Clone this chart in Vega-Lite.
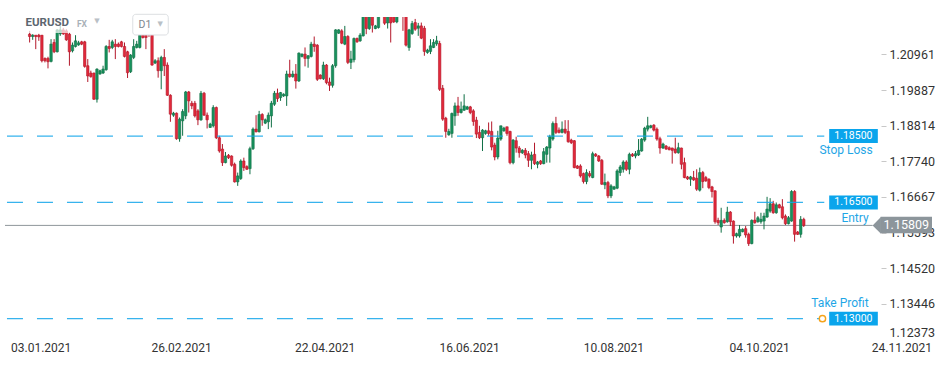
{
"$schema":"https://vega.github.io/schema/vega-lite/v6.json",
"width":950,"height":323,
"autosize":{"type":"none"},
"padding":{"left":0,"top":17,"right":0,"bottom":25},
"background":"white",
"config":{"view":{"stroke":null},"font":"Roboto"},
"datasets":{
"candles":[
{"i":0,"o":1.2157,"h":1.2167,"l":1.2132,"c":1.2150},
{"i":1,"o":1.2150,"h":1.2157,"l":1.2140,"c":1.2154},
{"i":2,"o":1.2154,"h":1.2154,"l":1.2112,"c":1.2150},
{"i":3,"o":1.2154,"h":1.2158,"l":1.2137,"c":1.2149},
{"i":4,"o":1.2154,"h":1.2154,"l":1.2072,"c":1.2077},
{"i":5,"o":1.2084,"h":1.2087,"l":1.2072,"c":1.2077},
{"i":6,"o":1.2084,"h":1.2089,"l":1.2054,"c":1.2074},
{"i":7,"o":1.2075,"h":1.2142,"l":1.2072,"c":1.2127},
{"i":8,"o":1.2132,"h":1.2142,"l":1.2100,"c":1.2104},
{"i":9,"o":1.2104,"h":1.2172,"l":1.2102,"c":1.2170},
{"i":10,"o":1.2158,"h":1.2182,"l":1.2152,"c":1.2170},
{"i":11,"o":1.2170,"h":1.2176,"l":1.2155,"c":1.2158},
{"i":12,"o":1.2167,"h":1.2172,"l":1.2137,"c":1.2140},
{"i":13,"o":1.2157,"h":1.2162,"l":1.2062,"c":1.2104},
{"i":14,"o":1.2107,"h":1.2132,"l":1.2102,"c":1.2124},
{"i":15,"o":1.2120,"h":1.2154,"l":1.2117,"c":1.2137},
{"i":16,"o":1.2125,"h":1.2137,"l":1.2122,"c":1.2131},
{"i":17,"o":1.2134,"h":1.2137,"l":1.2124,"c":1.2127},
{"i":18,"o":1.2134,"h":1.2137,"l":1.2056,"c":1.2060},
{"i":19,"o":1.2062,"h":1.2082,"l":1.2013,"c":1.2031},
{"i":20,"o":1.2040,"h":1.2047,"l":1.2026,"c":1.2029},
{"i":21,"o":1.2040,"h":1.2041,"l":1.1959,"c":1.1961},
{"i":22,"o":1.1961,"h":1.2054,"l":1.1951,"c":1.2052},
{"i":23,"o":1.2037,"h":1.2050,"l":1.2035,"c":1.2047},
{"i":24,"o":1.2040,"h":1.2062,"l":1.2037,"c":1.2052},
{"i":25,"o":1.2050,"h":1.2124,"l":1.2047,"c":1.2120},
{"i":26,"o":1.2120,"h":1.2140,"l":1.2102,"c":1.2114},
{"i":27,"o":1.2117,"h":1.2140,"l":1.2112,"c":1.2134},
{"i":28,"o":1.2127,"h":1.2142,"l":1.2082,"c":1.2120},
{"i":29,"o":1.2127,"h":1.2132,"l":1.2117,"c":1.2120},
{"i":30,"o":1.2134,"h":1.2137,"l":1.2117,"c":1.2120},
{"i":31,"o":1.2120,"h":1.2132,"l":1.2087,"c":1.2090},
{"i":32,"o":1.2104,"h":1.2107,"l":1.2025,"c":1.2041},
{"i":33,"o":1.2044,"h":1.2097,"l":1.2040,"c":1.2094},
{"i":34,"o":1.2087,"h":1.2142,"l":1.2082,"c":1.2120},
{"i":35,"o":1.2117,"h":1.2137,"l":1.2114,"c":1.2127},
{"i":36,"o":1.2117,"h":1.2167,"l":1.2114,"c":1.2154},
{"i":37,"o":1.2154,"h":1.2167,"l":1.2144,"c":1.2147},
{"i":38,"o":1.2154,"h":1.2167,"l":1.2112,"c":1.2147},
{"i":39,"o":1.2167,"h":1.2173,"l":1.2149,"c":1.2157},
{"i":40,"o":1.2157,"h":1.2167,"l":1.2062,"c":1.2064},
{"i":41,"o":1.2070,"h":1.2082,"l":1.2067,"c":1.2077},
{"i":42,"o":1.2077,"h":1.2087,"l":1.2026,"c":1.2047},
{"i":43,"o":1.2047,"h":1.2092,"l":1.1991,"c":1.2087},
{"i":44,"o":1.2087,"h":1.2112,"l":1.2031,"c":1.2062},
{"i":45,"o":1.2064,"h":1.2072,"l":1.1971,"c":1.1973},
{"i":46,"o":1.1973,"h":1.1976,"l":1.1893,"c":1.1916},
{"i":47,"o":1.1913,"h":1.1923,"l":1.1908,"c":1.1919},
{"i":48,"o":1.1919,"h":1.1921,"l":1.1839,"c":1.1842},
{"i":49,"o":1.1842,"h":1.1906,"l":1.1833,"c":1.1901},
{"i":50,"o":1.1896,"h":1.1931,"l":1.1851,"c":1.1924},
{"i":51,"o":1.1911,"h":1.1986,"l":1.1901,"c":1.1983},
{"i":52,"o":1.1983,"h":1.1986,"l":1.1921,"c":1.1956},
{"i":53,"o":1.1949,"h":1.1956,"l":1.1931,"c":1.1941},
{"i":54,"o":1.1949,"h":1.1956,"l":1.1906,"c":1.1911},
{"i":55,"o":1.1926,"h":1.1931,"l":1.1883,"c":1.1899},
{"i":56,"o":1.1899,"h":1.1986,"l":1.1896,"c":1.1979},
{"i":57,"o":1.1979,"h":1.1983,"l":1.1911,"c":1.1913},
{"i":58,"o":1.1913,"h":1.1921,"l":1.1873,"c":1.1899},
{"i":59,"o":1.1876,"h":1.1890,"l":1.1875,"c":1.1886},
{"i":60,"o":1.1881,"h":1.1943,"l":1.1876,"c":1.1936},
{"i":61,"o":1.1936,"h":1.1939,"l":1.1841,"c":1.1845},
{"i":62,"o":1.1845,"h":1.1851,"l":1.1800,"c":1.1805},
{"i":63,"o":1.1811,"h":1.1826,"l":1.1760,"c":1.1770},
{"i":64,"o":1.1770,"h":1.1802,"l":1.1768,"c":1.1790},
{"i":65,"o":1.1792,"h":1.1796,"l":1.1781,"c":1.1785},
{"i":66,"o":1.1790,"h":1.1792,"l":1.1758,"c":1.1762},
{"i":67,"o":1.1765,"h":1.1770,"l":1.1710,"c":1.1712},
{"i":68,"o":1.1712,"h":1.1740,"l":1.1700,"c":1.1730},
{"i":69,"o":1.1722,"h":1.1780,"l":1.1718,"c":1.1775},
{"i":70,"o":1.1775,"h":1.1785,"l":1.1745,"c":1.1755},
{"i":71,"o":1.1758,"h":1.1762,"l":1.1748,"c":1.1750},
{"i":72,"o":1.1752,"h":1.1818,"l":1.1735,"c":1.1812},
{"i":73,"o":1.1812,"h":1.1876,"l":1.1808,"c":1.1871},
{"i":74,"o":1.1871,"h":1.1913,"l":1.1861,"c":1.1863},
{"i":75,"o":1.1863,"h":1.1926,"l":1.1861,"c":1.1915},
{"i":76,"o":1.1915,"h":1.1919,"l":1.1881,"c":1.1899},
{"i":77,"o":1.1889,"h":1.1903,"l":1.1886,"c":1.1899},
{"i":78,"o":1.1893,"h":1.1921,"l":1.1871,"c":1.1913},
{"i":79,"o":1.1911,"h":1.1956,"l":1.1876,"c":1.1949},
{"i":80,"o":1.1946,"h":1.1986,"l":1.1941,"c":1.1979},
{"i":81,"o":1.1979,"h":1.1993,"l":1.1953,"c":1.1963},
{"i":82,"o":1.1966,"h":1.1983,"l":1.1956,"c":1.1981},
{"i":83,"o":1.1971,"h":1.1979,"l":1.1968,"c":1.1976},
{"i":84,"o":1.1971,"h":1.2047,"l":1.1941,"c":1.2037},
{"i":85,"o":1.2037,"h":1.2080,"l":1.2026,"c":1.2029},
{"i":86,"o":1.2029,"h":1.2047,"l":1.2026,"c":1.2037},
{"i":87,"o":1.2037,"h":1.2067,"l":1.1993,"c":1.2016},
{"i":88,"o":1.2016,"h":1.2102,"l":1.2013,"c":1.2100},
{"i":89,"o":1.2090,"h":1.2099,"l":1.2087,"c":1.2097},
{"i":90,"o":1.2097,"h":1.2117,"l":1.2060,"c":1.2084},
{"i":91,"o":1.2084,"h":1.2094,"l":1.2056,"c":1.2092},
{"i":92,"o":1.2090,"h":1.2134,"l":1.2087,"c":1.2127},
{"i":93,"o":1.2127,"h":1.2150,"l":1.2104,"c":1.2120},
{"i":94,"o":1.2124,"h":1.2127,"l":1.2016,"c":1.2021},
{"i":95,"o":1.2034,"h":1.2036,"l":1.2021,"c":1.2023},
{"i":96,"o":1.2023,"h":1.2074,"l":1.2019,"c":1.2064},
{"i":97,"o":1.2064,"h":1.2067,"l":1.2006,"c":1.2011},
{"i":98,"o":1.2013,"h":1.2026,"l":1.1986,"c":1.2003},
{"i":99,"o":1.2003,"h":1.2067,"l":1.1996,"c":1.2062},
{"i":100,"o":1.2062,"h":1.2172,"l":1.2056,"c":1.2170},
{"i":101,"o":1.2160,"h":1.2172,"l":1.2158,"c":1.2170},
{"i":102,"o":1.2167,"h":1.2172,"l":1.2127,"c":1.2130},
{"i":103,"o":1.2127,"h":1.2182,"l":1.2124,"c":1.2150},
{"i":104,"o":1.2150,"h":1.2154,"l":1.2067,"c":1.2072},
{"i":105,"o":1.2072,"h":1.2107,"l":1.2052,"c":1.2082},
{"i":106,"o":1.2080,"h":1.2147,"l":1.2072,"c":1.2144},
{"i":107,"o":1.2144,"h":1.2147,"l":1.2131,"c":1.2134},
{"i":108,"o":1.2137,"h":1.2160,"l":1.2134,"c":1.2154},
{"i":109,"o":1.2152,"h":1.2225,"l":1.2150,"c":1.2215},
{"i":110,"o":1.2225,"h":1.2240,"l":1.2157,"c":1.2174},
{"i":111,"o":1.2174,"h":1.2235,"l":1.2170,"c":1.2220},
{"i":112,"o":1.2230,"h":1.2245,"l":1.2162,"c":1.2184},
{"i":113,"o":1.2174,"h":1.2185,"l":1.2172,"c":1.2182},
{"i":114,"o":1.2177,"h":1.2240,"l":1.2174,"c":1.2225},
{"i":115,"o":1.2250,"h":1.2262,"l":1.2215,"c":1.2228},
{"i":116,"o":1.2232,"h":1.2245,"l":1.2185,"c":1.2190},
{"i":117,"o":1.2191,"h":1.2228,"l":1.2174,"c":1.2213},
{"i":118,"o":1.2220,"h":1.2230,"l":1.2132,"c":1.2191},
{"i":119,"o":1.2228,"h":1.2240,"l":1.2191,"c":1.2194},
{"i":120,"o":1.2194,"h":1.2240,"l":1.2190,"c":1.2225},
{"i":121,"o":1.2225,"h":1.2250,"l":1.2212,"c":1.2240},
{"i":122,"o":1.2240,"h":1.2250,"l":1.2167,"c":1.2215},
{"i":123,"o":1.2215,"h":1.2225,"l":1.2120,"c":1.2124},
{"i":124,"o":1.2117,"h":1.2173,"l":1.2107,"c":1.2170},
{"i":125,"o":1.2159,"h":1.2197,"l":1.2155,"c":1.2189},
{"i":126,"o":1.2192,"h":1.2203,"l":1.2167,"c":1.2172},
{"i":127,"o":1.2175,"h":1.2191,"l":1.2152,"c":1.2182},
{"i":128,"o":1.2182,"h":1.2192,"l":1.2142,"c":1.2145},
{"i":129,"o":1.2175,"h":1.2182,"l":1.2092,"c":1.2105},
{"i":130,"o":1.2102,"h":1.2113,"l":1.2098,"c":1.2109},
{"i":131,"o":1.2105,"h":1.2142,"l":1.2097,"c":1.2122},
{"i":132,"o":1.2117,"h":1.2142,"l":1.2115,"c":1.2132},
{"i":133,"o":1.2128,"h":1.2152,"l":1.2122,"c":1.2137},
{"i":134,"o":1.2129,"h":1.2137,"l":1.1986,"c":1.1991},
{"i":135,"o":1.1994,"h":1.2004,"l":1.1896,"c":1.1901},
{"i":136,"o":1.1904,"h":1.1908,"l":1.1845,"c":1.1864},
{"i":137,"o":1.1854,"h":1.1872,"l":1.1851,"c":1.1864},
{"i":138,"o":1.1858,"h":1.1921,"l":1.1845,"c":1.1918},
{"i":139,"o":1.1911,"h":1.1951,"l":1.1881,"c":1.1941},
{"i":140,"o":1.1941,"h":1.1968,"l":1.1911,"c":1.1921},
{"i":141,"o":1.1921,"h":1.1954,"l":1.1918,"c":1.1931},
{"i":142,"o":1.1928,"h":1.1976,"l":1.1926,"c":1.1941},
{"i":143,"o":1.1931,"h":1.1941,"l":1.1929,"c":1.1938},
{"i":144,"o":1.1938,"h":1.1941,"l":1.1916,"c":1.1921},
{"i":145,"o":1.1926,"h":1.1931,"l":1.1881,"c":1.1894},
{"i":146,"o":1.1898,"h":1.1908,"l":1.1844,"c":1.1856},
{"i":147,"o":1.1861,"h":1.1881,"l":1.1841,"c":1.1845},
{"i":148,"o":1.1845,"h":1.1871,"l":1.1805,"c":1.1868},
{"i":149,"o":1.1858,"h":1.1869,"l":1.1854,"c":1.1866},
{"i":150,"o":1.1866,"h":1.1891,"l":1.1851,"c":1.1858},
{"i":151,"o":1.1864,"h":1.1894,"l":1.1807,"c":1.1817},
{"i":152,"o":1.1823,"h":1.1830,"l":1.1777,"c":1.1787},
{"i":153,"o":1.1787,"h":1.1866,"l":1.1780,"c":1.1844},
{"i":154,"o":1.1841,"h":1.1881,"l":1.1836,"c":1.1881},
{"i":155,"o":1.1866,"h":1.1878,"l":1.1863,"c":1.1874},
{"i":156,"o":1.1878,"h":1.1878,"l":1.1851,"c":1.1858},
{"i":157,"o":1.1864,"h":1.1866,"l":1.1765,"c":1.1770},
{"i":158,"o":1.1770,"h":1.1841,"l":1.1765,"c":1.1838},
{"i":159,"o":1.1836,"h":1.1848,"l":1.1800,"c":1.1814},
{"i":160,"o":1.1814,"h":1.1820,"l":1.1785,"c":1.1800},
{"i":161,"o":1.1800,"h":1.1811,"l":1.1796,"c":1.1807},
{"i":162,"o":1.1807,"h":1.1814,"l":1.1783,"c":1.1793},
{"i":163,"o":1.1797,"h":1.1805,"l":1.1757,"c":1.1777},
{"i":164,"o":1.1777,"h":1.1803,"l":1.1750,"c":1.1793},
{"i":165,"o":1.1795,"h":1.1830,"l":1.1763,"c":1.1767},
{"i":166,"o":1.1765,"h":1.1775,"l":1.1753,"c":1.1772},
{"i":167,"o":1.1775,"h":1.1778,"l":1.1763,"c":1.1767},
{"i":168,"o":1.1767,"h":1.1814,"l":1.1765,"c":1.1803},
{"i":169,"o":1.1795,"h":1.1820,"l":1.1770,"c":1.1817},
{"i":170,"o":1.1814,"h":1.1854,"l":1.1770,"c":1.1848},
{"i":171,"o":1.1841,"h":1.1894,"l":1.1836,"c":1.1888},
{"i":172,"o":1.1888,"h":1.1908,"l":1.1856,"c":1.1861},
{"i":173,"o":1.1868,"h":1.1876,"l":1.1858,"c":1.1861},
{"i":174,"o":1.1861,"h":1.1894,"l":1.1858,"c":1.1871},
{"i":175,"o":1.1871,"h":1.1898,"l":1.1856,"c":1.1861},
{"i":176,"o":1.1864,"h":1.1898,"l":1.1830,"c":1.1833},
{"i":177,"o":1.1838,"h":1.1842,"l":1.1826,"c":1.1830},
{"i":178,"o":1.1836,"h":1.1838,"l":1.1753,"c":1.1755},
{"i":179,"o":1.1760,"h":1.1763,"l":1.1751,"c":1.1753},
{"i":180,"o":1.1760,"h":1.1765,"l":1.1725,"c":1.1730},
{"i":181,"o":1.1737,"h":1.1740,"l":1.1707,"c":1.1713},
{"i":182,"o":1.1713,"h":1.1750,"l":1.1705,"c":1.1740},
{"i":183,"o":1.1737,"h":1.1745,"l":1.1725,"c":1.1730},
{"i":184,"o":1.1725,"h":1.1803,"l":1.1723,"c":1.1797},
{"i":185,"o":1.1795,"h":1.1799,"l":1.1787,"c":1.1790},
{"i":186,"o":1.1790,"h":1.1793,"l":1.1772,"c":1.1775},
{"i":187,"o":1.1777,"h":1.1781,"l":1.1703,"c":1.1705},
{"i":188,"o":1.1703,"h":1.1737,"l":1.1690,"c":1.1710},
{"i":189,"o":1.1710,"h":1.1715,"l":1.1663,"c":1.1670},
{"i":190,"o":1.1670,"h":1.1705,"l":1.1663,"c":1.1700},
{"i":191,"o":1.1690,"h":1.1700,"l":1.1688,"c":1.1697},
{"i":192,"o":1.1693,"h":1.1750,"l":1.1690,"c":1.1745},
{"i":193,"o":1.1740,"h":1.1763,"l":1.1730,"c":1.1757},
{"i":194,"o":1.1750,"h":1.1777,"l":1.1740,"c":1.1772},
{"i":195,"o":1.1772,"h":1.1777,"l":1.1745,"c":1.1750},
{"i":196,"o":1.1750,"h":1.1800,"l":1.1735,"c":1.1795},
{"i":197,"o":1.1795,"h":1.1799,"l":1.1787,"c":1.1790},
{"i":198,"o":1.1790,"h":1.1805,"l":1.1783,"c":1.1797},
{"i":199,"o":1.1793,"h":1.1841,"l":1.1790,"c":1.1807},
{"i":200,"o":1.1805,"h":1.1844,"l":1.1803,"c":1.1841},
{"i":201,"o":1.1838,"h":1.1878,"l":1.1833,"c":1.1874},
{"i":202,"o":1.1871,"h":1.1908,"l":1.1864,"c":1.1881},
{"i":203,"o":1.1876,"h":1.1884,"l":1.1873,"c":1.1881},
{"i":204,"o":1.1883,"h":1.1886,"l":1.1864,"c":1.1868},
{"i":205,"o":1.1871,"h":1.1876,"l":1.1836,"c":1.1841},
{"i":206,"o":1.1842,"h":1.1848,"l":1.1797,"c":1.1814},
{"i":207,"o":1.1814,"h":1.1830,"l":1.1811,"c":1.1826},
{"i":208,"o":1.1820,"h":1.1823,"l":1.1808,"c":1.1811},
{"i":209,"o":1.1815,"h":1.1819,"l":1.1807,"c":1.1809},
{"i":210,"o":1.1814,"h":1.1815,"l":1.1767,"c":1.1807},
{"i":211,"o":1.1811,"h":1.1845,"l":1.1797,"c":1.1800},
{"i":212,"o":1.1800,"h":1.1830,"l":1.1797,"c":1.1815},
{"i":213,"o":1.1814,"h":1.1815,"l":1.1750,"c":1.1765},
{"i":214,"o":1.1770,"h":1.1785,"l":1.1723,"c":1.1725},
{"i":215,"o":1.1727,"h":1.1730,"l":1.1718,"c":1.1721},
{"i":216,"o":1.1720,"h":1.1730,"l":1.1700,"c":1.1727},
{"i":217,"o":1.1725,"h":1.1745,"l":1.1715,"c":1.1718},
{"i":218,"o":1.1723,"h":1.1750,"l":1.1685,"c":1.1690},
{"i":219,"o":1.1687,"h":1.1755,"l":1.1683,"c":1.1740},
{"i":220,"o":1.1740,"h":1.1745,"l":1.1693,"c":1.1713},
{"i":221,"o":1.1725,"h":1.1730,"l":1.1712,"c":1.1715},
{"i":222,"o":1.1720,"h":1.1723,"l":1.1690,"c":1.1695},
{"i":223,"o":1.1697,"h":1.1700,"l":1.1665,"c":1.1683},
{"i":224,"o":1.1685,"h":1.1687,"l":1.1586,"c":1.1592},
{"i":225,"o":1.1596,"h":1.1604,"l":1.1582,"c":1.1589},
{"i":226,"o":1.1576,"h":1.1634,"l":1.1559,"c":1.1596},
{"i":227,"o":1.1596,"h":1.1602,"l":1.1586,"c":1.1589},
{"i":228,"o":1.1592,"h":1.1637,"l":1.1589,"c":1.1621},
{"i":229,"o":1.1621,"h":1.1624,"l":1.1579,"c":1.1592},
{"i":230,"o":1.1594,"h":1.1596,"l":1.1526,"c":1.1549},
{"i":231,"o":1.1549,"h":1.1559,"l":1.1544,"c":1.1556},
{"i":232,"o":1.1549,"h":1.1582,"l":1.1544,"c":1.1569},
{"i":233,"o":1.1562,"h":1.1572,"l":1.1560,"c":1.1569},
{"i":234,"o":1.1571,"h":1.1579,"l":1.1544,"c":1.1552},
{"i":235,"o":1.1554,"h":1.1559,"l":1.1519,"c":1.1526},
{"i":236,"o":1.1526,"h":1.1599,"l":1.1524,"c":1.1596},
{"i":237,"o":1.1597,"h":1.1622,"l":1.1586,"c":1.1589},
{"i":238,"o":1.1592,"h":1.1609,"l":1.1589,"c":1.1604},
{"i":239,"o":1.1592,"h":1.1619,"l":1.1586,"c":1.1599},
{"i":240,"o":1.1594,"h":1.1619,"l":1.1569,"c":1.1609},
{"i":241,"o":1.1606,"h":1.1667,"l":1.1604,"c":1.1630},
{"i":242,"o":1.1624,"h":1.1663,"l":1.1619,"c":1.1646},
{"i":243,"o":1.1646,"h":1.1655,"l":1.1616,"c":1.1619},
{"i":244,"o":1.1619,"h":1.1650,"l":1.1616,"c":1.1643},
{"i":245,"o":1.1643,"h":1.1646,"l":1.1632,"c":1.1634},
{"i":246,"o":1.1637,"h":1.1660,"l":1.1599,"c":1.1604},
{"i":247,"o":1.1609,"h":1.1614,"l":1.1582,"c":1.1586},
{"i":248,"o":1.1586,"h":1.1609,"l":1.1584,"c":1.1604},
{"i":249,"o":1.1594,"h":1.1687,"l":1.1592,"c":1.1683},
{"i":250,"o":1.1683,"h":1.1687,"l":1.1532,"c":1.1554},
{"i":251,"o":1.1561,"h":1.1564,"l":1.1552,"c":1.1554},
{"i":252,"o":1.1554,"h":1.1609,"l":1.1544,"c":1.1599},
{"i":253,"o":1.1599,"h":1.1604,"l":1.1576,"c":1.15809}
],
"pline":[{"i":-8.052,"i2":275.5,"p":1.15809}],
"levels":[{"i":-7.405,"i2":259.7,"p":1.185},{"i":-7.405,"i2":259.7,"p":1.165},{"i":-7.405,"i2":258.1,"p":1.13}],
"overlay":[{"i":-8.052,"i2":46.9,"p":1.21606,"p2":1.2215}],
"d1box":[{"i":33.7,"i2":45.3,"p":1.21546,"p2":1.22169}],
"hdr1":[{"i":-1.36,"p":1.21898,"t":"EURUSD"}],
"hdr2":[{"i":15.46,"p":1.21892,"t":"FX"}],
"hdr3":[{"i":22.0,"p":1.21967,"t":"▼"},{"i":42.7,"p":1.21877,"t":"▼"}],
"hdr4":[{"i":35.6,"p":1.21862,"t":"D1"}],
"ring":[{"i":259.1,"p":1.13}],
"boxes":[{"i":261.3,"i2":277.2,"p":1.1829,"p2":1.1871},{"i":261.3,"i2":277.2,"p":1.1629,"p2":1.1671},{"i":261.3,"i2":277.2,"p":1.1279,"p2":1.1321}],
"boxtext":[{"i":269.2,"p":1.185,"t":"1.18500"},{"i":269.2,"p":1.165,"t":"1.16500"},{"i":269.2,"p":1.13,"t":"1.13000"}],
"tags":[{"i":275.5,"p":1.18081,"t":"Stop Loss"},{"i":274.2,"p":1.16032,"t":"Entry"},{"i":274.2,"p":1.13471,"t":"Take Profit"}],
"gbox":[{"i":278.1,"i2":294.9,"p":1.15571,"p2":1.16071}],
"gtip":[{"i":275.5,"p":1.15809}],
"gtext":[{"i":286.5,"p":1.15809,"t":"1.15809"}]
},
"encoding":{"x":{"field":"i","type":"quantitative","scale":{"domain":[-8.052,299.15],"nice":false,"zero":false},
 "axis":{"values":[3.6,49.5,96.4,143.6,190.8,238.4,284.9],"labelExpr":"datum.value<20?'03.01.2021':datum.value<70?'26.02.2021':datum.value<120?'22.04.2021':datum.value<170?'16.06.2021':datum.value<210?'10.08.2021':datum.value<260?'04.10.2021':'24.11.2021'","title":null,"domain":false,"ticks":false,"grid":false,"labelFont":"Roboto","labelFontSize":12,"labelColor":"#333333","labelPadding":2,"labelFlush":false,"labelOverlap":false,"labelBaseline":"top"}}},
"layer":[
{"data":{"name":"pline"},"mark":{"type":"rule","color":"#8e969b","strokeWidth":1},
 "encoding":{"x2":{"field":"i2"},"y":{"field":"p","type":"quantitative","scale":{"domain":[1.12356,1.22088],"nice":false,"zero":false},"axis":{"orient":"right","offset":-69,"values":[1.20961,1.19887,1.18814,1.1774,1.16667,1.15593,1.1452,1.13446,1.12373],"format":".5f","title":null,"domain":false,"grid":false,"ticks":true,"tickSize":5,"tickColor":"#c8c8c8","labelFont":"Roboto","labelFontSize":12.5,"labelColor":"#333333","labelPadding":3,"labelFlush":false,"labelOverlap":false,"labelBound":false,"labelBaseline":{"condition":{"test":"datum.value < 1.124","value":"bottom"},"value":"middle"},"tickOpacity":{"condition":{"test":"datum.value < 1.124","value":0},"value":1}}}}},
{"data":{"name":"candles"},"mark":{"type":"rule","strokeWidth":1,"clip":true},
 "encoding":{"y":{"field":"l","type":"quantitative","scale":{"domain":[1.12356,1.22088],"nice":false,"zero":false},"axis":{"orient":"right","offset":-69,"values":[1.20961,1.19887,1.18814,1.1774,1.16667,1.15593,1.1452,1.13446,1.12373],"format":".5f","title":null,"domain":false,"grid":false,"ticks":true,"tickSize":5,"tickColor":"#c8c8c8","labelFont":"Roboto","labelFontSize":12.5,"labelColor":"#333333","labelPadding":3,"labelFlush":false,"labelOverlap":false,"labelBound":false,"labelBaseline":{"condition":{"test":"datum.value < 1.124","value":"bottom"},"value":"middle"},"tickOpacity":{"condition":{"test":"datum.value < 1.124","value":0},"value":1}}},"y2":{"field":"h"},
 "color":{"condition":{"test":"datum.c >= datum.o","value":"#0f6f45"},"value":"#b3172a"}}},
{"data":{"name":"candles"},"mark":{"type":"bar","width":2.4,"strokeWidth":0.6,"clip":true},
 "encoding":{"y":{"field":"o","type":"quantitative","scale":{"domain":[1.12356,1.22088],"nice":false,"zero":false},"axis":{"orient":"right","offset":-69,"values":[1.20961,1.19887,1.18814,1.1774,1.16667,1.15593,1.1452,1.13446,1.12373],"format":".5f","title":null,"domain":false,"grid":false,"ticks":true,"tickSize":5,"tickColor":"#c8c8c8","labelFont":"Roboto","labelFontSize":12.5,"labelColor":"#333333","labelPadding":3,"labelFlush":false,"labelOverlap":false,"labelBound":false,"labelBaseline":{"condition":{"test":"datum.value < 1.124","value":"bottom"},"value":"middle"},"tickOpacity":{"condition":{"test":"datum.value < 1.124","value":0},"value":1}}},
  "y2":{"field":"c"},
  "fill":{"condition":{"test":"datum.c >= datum.o","value":"#17925d"},"value":"#e2293b"},
  "stroke":{"condition":{"test":"datum.c >= datum.o","value":"#0f6f45"},"value":"#b3172a"}}},
{"data":{"name":"levels"},"mark":{"type":"rule","color":"#14a6ea","strokeWidth":1.3,"strokeDash":[16,14],"opacity":0.85},
 "encoding":{"x2":{"field":"i2"},"y":{"field":"p","type":"quantitative","scale":{"domain":[1.12356,1.22088],"nice":false,"zero":false},"axis":{"orient":"right","offset":-69,"values":[1.20961,1.19887,1.18814,1.1774,1.16667,1.15593,1.1452,1.13446,1.12373],"format":".5f","title":null,"domain":false,"grid":false,"ticks":true,"tickSize":5,"tickColor":"#c8c8c8","labelFont":"Roboto","labelFontSize":12.5,"labelColor":"#333333","labelPadding":3,"labelFlush":false,"labelOverlap":false,"labelBound":false,"labelBaseline":{"condition":{"test":"datum.value < 1.124","value":"bottom"},"value":"middle"},"tickOpacity":{"condition":{"test":"datum.value < 1.124","value":0},"value":1}}}}},
{"data":{"name":"overlay"},"mark":{"type":"rect","fill":"white","opacity":0.7,"clip":true},
 "encoding":{"x2":{"field":"i2"},"y":{"field":"p","type":"quantitative","scale":{"domain":[1.12356,1.22088],"nice":false,"zero":false},"axis":{"orient":"right","offset":-69,"values":[1.20961,1.19887,1.18814,1.1774,1.16667,1.15593,1.1452,1.13446,1.12373],"format":".5f","title":null,"domain":false,"grid":false,"ticks":true,"tickSize":5,"tickColor":"#c8c8c8","labelFont":"Roboto","labelFontSize":12.5,"labelColor":"#333333","labelPadding":3,"labelFlush":false,"labelOverlap":false,"labelBound":false,"labelBaseline":{"condition":{"test":"datum.value < 1.124","value":"bottom"},"value":"middle"},"tickOpacity":{"condition":{"test":"datum.value < 1.124","value":0},"value":1}}},"y2":{"field":"p2"}}},
{"data":{"name":"d1box"},"mark":{"type":"rect","fill":"white","stroke":"#dcdfe2","strokeWidth":1,"cornerRadius":3},
 "encoding":{"x2":{"field":"i2"},"y":{"field":"p","type":"quantitative","scale":{"domain":[1.12356,1.22088],"nice":false,"zero":false},"axis":{"orient":"right","offset":-69,"values":[1.20961,1.19887,1.18814,1.1774,1.16667,1.15593,1.1452,1.13446,1.12373],"format":".5f","title":null,"domain":false,"grid":false,"ticks":true,"tickSize":5,"tickColor":"#c8c8c8","labelFont":"Roboto","labelFontSize":12.5,"labelColor":"#333333","labelPadding":3,"labelFlush":false,"labelOverlap":false,"labelBound":false,"labelBaseline":{"condition":{"test":"datum.value < 1.124","value":"bottom"},"value":"middle"},"tickOpacity":{"condition":{"test":"datum.value < 1.124","value":0},"value":1}}},"y2":{"field":"p2"}}},
{"data":{"name":"hdr1"},"mark":{"type":"text","align":"left","baseline":"middle","fontSize":11.5,"fontWeight":"bold","fill":"#5c6670","font":"Roboto"},
 "encoding":{"y":{"field":"p","type":"quantitative","scale":{"domain":[1.12356,1.22088],"nice":false,"zero":false},"axis":{"orient":"right","offset":-69,"values":[1.20961,1.19887,1.18814,1.1774,1.16667,1.15593,1.1452,1.13446,1.12373],"format":".5f","title":null,"domain":false,"grid":false,"ticks":true,"tickSize":5,"tickColor":"#c8c8c8","labelFont":"Roboto","labelFontSize":12.5,"labelColor":"#333333","labelPadding":3,"labelFlush":false,"labelOverlap":false,"labelBound":false,"labelBaseline":{"condition":{"test":"datum.value < 1.124","value":"bottom"},"value":"middle"},"tickOpacity":{"condition":{"test":"datum.value < 1.124","value":0},"value":1}}},"text":{"field":"t"}}},
{"data":{"name":"hdr2"},"mark":{"type":"text","align":"left","baseline":"middle","fontSize":8.5,"fontWeight":"bold","fill":"#a9b1b8","font":"Roboto"},
 "encoding":{"y":{"field":"p","type":"quantitative","scale":{"domain":[1.12356,1.22088],"nice":false,"zero":false},"axis":{"orient":"right","offset":-69,"values":[1.20961,1.19887,1.18814,1.1774,1.16667,1.15593,1.1452,1.13446,1.12373],"format":".5f","title":null,"domain":false,"grid":false,"ticks":true,"tickSize":5,"tickColor":"#c8c8c8","labelFont":"Roboto","labelFontSize":12.5,"labelColor":"#333333","labelPadding":3,"labelFlush":false,"labelOverlap":false,"labelBound":false,"labelBaseline":{"condition":{"test":"datum.value < 1.124","value":"bottom"},"value":"middle"},"tickOpacity":{"condition":{"test":"datum.value < 1.124","value":0},"value":1}}},"text":{"field":"t"}}},
{"data":{"name":"hdr3"},"mark":{"type":"text","align":"center","baseline":"middle","fontSize":7,"fill":"#b9c0c6","font":"DejaVu Sans"},
 "encoding":{"y":{"field":"p","type":"quantitative","scale":{"domain":[1.12356,1.22088],"nice":false,"zero":false},"axis":{"orient":"right","offset":-69,"values":[1.20961,1.19887,1.18814,1.1774,1.16667,1.15593,1.1452,1.13446,1.12373],"format":".5f","title":null,"domain":false,"grid":false,"ticks":true,"tickSize":5,"tickColor":"#c8c8c8","labelFont":"Roboto","labelFontSize":12.5,"labelColor":"#333333","labelPadding":3,"labelFlush":false,"labelOverlap":false,"labelBound":false,"labelBaseline":{"condition":{"test":"datum.value < 1.124","value":"bottom"},"value":"middle"},"tickOpacity":{"condition":{"test":"datum.value < 1.124","value":0},"value":1}}},"text":{"field":"t"}}},
{"data":{"name":"hdr4"},"mark":{"type":"text","align":"left","baseline":"middle","fontSize":10.5,"fill":"#7f878e","font":"Roboto"},
 "encoding":{"y":{"field":"p","type":"quantitative","scale":{"domain":[1.12356,1.22088],"nice":false,"zero":false},"axis":{"orient":"right","offset":-69,"values":[1.20961,1.19887,1.18814,1.1774,1.16667,1.15593,1.1452,1.13446,1.12373],"format":".5f","title":null,"domain":false,"grid":false,"ticks":true,"tickSize":5,"tickColor":"#c8c8c8","labelFont":"Roboto","labelFontSize":12.5,"labelColor":"#333333","labelPadding":3,"labelFlush":false,"labelOverlap":false,"labelBound":false,"labelBaseline":{"condition":{"test":"datum.value < 1.124","value":"bottom"},"value":"middle"},"tickOpacity":{"condition":{"test":"datum.value < 1.124","value":0},"value":1}}},"text":{"field":"t"}}},
{"data":{"name":"ring"},"mark":{"type":"point","shape":"circle","filled":false,"stroke":"#f5a31a","strokeWidth":1.4,"size":40,"opacity":1},
 "encoding":{"y":{"field":"p","type":"quantitative","scale":{"domain":[1.12356,1.22088],"nice":false,"zero":false},"axis":{"orient":"right","offset":-69,"values":[1.20961,1.19887,1.18814,1.1774,1.16667,1.15593,1.1452,1.13446,1.12373],"format":".5f","title":null,"domain":false,"grid":false,"ticks":true,"tickSize":5,"tickColor":"#c8c8c8","labelFont":"Roboto","labelFontSize":12.5,"labelColor":"#333333","labelPadding":3,"labelFlush":false,"labelOverlap":false,"labelBound":false,"labelBaseline":{"condition":{"test":"datum.value < 1.124","value":"bottom"},"value":"middle"},"tickOpacity":{"condition":{"test":"datum.value < 1.124","value":0},"value":1}}}}},
{"data":{"name":"boxes"},"mark":{"type":"rect","fill":"#0aa5ec"},
 "encoding":{"x2":{"field":"i2"},"y":{"field":"p","type":"quantitative","scale":{"domain":[1.12356,1.22088],"nice":false,"zero":false},"axis":{"orient":"right","offset":-69,"values":[1.20961,1.19887,1.18814,1.1774,1.16667,1.15593,1.1452,1.13446,1.12373],"format":".5f","title":null,"domain":false,"grid":false,"ticks":true,"tickSize":5,"tickColor":"#c8c8c8","labelFont":"Roboto","labelFontSize":12.5,"labelColor":"#333333","labelPadding":3,"labelFlush":false,"labelOverlap":false,"labelBound":false,"labelBaseline":{"condition":{"test":"datum.value < 1.124","value":"bottom"},"value":"middle"},"tickOpacity":{"condition":{"test":"datum.value < 1.124","value":0},"value":1}}},"y2":{"field":"p2"}}},
{"data":{"name":"boxtext"},"mark":{"type":"text","align":"center","baseline":"middle","fontSize":10.5,"fill":"white","font":"Roboto"},
 "encoding":{"y":{"field":"p","type":"quantitative","scale":{"domain":[1.12356,1.22088],"nice":false,"zero":false},"axis":{"orient":"right","offset":-69,"values":[1.20961,1.19887,1.18814,1.1774,1.16667,1.15593,1.1452,1.13446,1.12373],"format":".5f","title":null,"domain":false,"grid":false,"ticks":true,"tickSize":5,"tickColor":"#c8c8c8","labelFont":"Roboto","labelFontSize":12.5,"labelColor":"#333333","labelPadding":3,"labelFlush":false,"labelOverlap":false,"labelBound":false,"labelBaseline":{"condition":{"test":"datum.value < 1.124","value":"bottom"},"value":"middle"},"tickOpacity":{"condition":{"test":"datum.value < 1.124","value":0},"value":1}}},"text":{"field":"t"}}},
{"data":{"name":"tags"},"mark":{"type":"text","align":"right","baseline":"middle","fontSize":12,"fill":"#1fa6e6","font":"Roboto"},
 "encoding":{"y":{"field":"p","type":"quantitative","scale":{"domain":[1.12356,1.22088],"nice":false,"zero":false},"axis":{"orient":"right","offset":-69,"values":[1.20961,1.19887,1.18814,1.1774,1.16667,1.15593,1.1452,1.13446,1.12373],"format":".5f","title":null,"domain":false,"grid":false,"ticks":true,"tickSize":5,"tickColor":"#c8c8c8","labelFont":"Roboto","labelFontSize":12.5,"labelColor":"#333333","labelPadding":3,"labelFlush":false,"labelOverlap":false,"labelBound":false,"labelBaseline":{"condition":{"test":"datum.value < 1.124","value":"bottom"},"value":"middle"},"tickOpacity":{"condition":{"test":"datum.value < 1.124","value":0},"value":1}}},"text":{"field":"t"}}},
{"data":{"name":"gbox"},"mark":{"type":"rect","fill":"#8c959b"},
 "encoding":{"x2":{"field":"i2"},"y":{"field":"p","type":"quantitative","scale":{"domain":[1.12356,1.22088],"nice":false,"zero":false},"axis":{"orient":"right","offset":-69,"values":[1.20961,1.19887,1.18814,1.1774,1.16667,1.15593,1.1452,1.13446,1.12373],"format":".5f","title":null,"domain":false,"grid":false,"ticks":true,"tickSize":5,"tickColor":"#c8c8c8","labelFont":"Roboto","labelFontSize":12.5,"labelColor":"#333333","labelPadding":3,"labelFlush":false,"labelOverlap":false,"labelBound":false,"labelBaseline":{"condition":{"test":"datum.value < 1.124","value":"bottom"},"value":"middle"},"tickOpacity":{"condition":{"test":"datum.value < 1.124","value":0},"value":1}}},"y2":{"field":"p2"}}},
{"data":{"name":"gtip"},"mark":{"type":"point","shape":"M0,0L1,-1L1,1Z","filled":true,"fill":"#8c959b","strokeWidth":0,"size":276,"opacity":1},
 "encoding":{"y":{"field":"p","type":"quantitative","scale":{"domain":[1.12356,1.22088],"nice":false,"zero":false},"axis":{"orient":"right","offset":-69,"values":[1.20961,1.19887,1.18814,1.1774,1.16667,1.15593,1.1452,1.13446,1.12373],"format":".5f","title":null,"domain":false,"grid":false,"ticks":true,"tickSize":5,"tickColor":"#c8c8c8","labelFont":"Roboto","labelFontSize":12.5,"labelColor":"#333333","labelPadding":3,"labelFlush":false,"labelOverlap":false,"labelBound":false,"labelBaseline":{"condition":{"test":"datum.value < 1.124","value":"bottom"},"value":"middle"},"tickOpacity":{"condition":{"test":"datum.value < 1.124","value":0},"value":1}}}}},
{"data":{"name":"gtext"},"mark":{"type":"text","align":"center","baseline":"middle","fontSize":12.5,"fill":"white","font":"Roboto"},
 "encoding":{"y":{"field":"p","type":"quantitative","scale":{"domain":[1.12356,1.22088],"nice":false,"zero":false},"axis":{"orient":"right","offset":-69,"values":[1.20961,1.19887,1.18814,1.1774,1.16667,1.15593,1.1452,1.13446,1.12373],"format":".5f","title":null,"domain":false,"grid":false,"ticks":true,"tickSize":5,"tickColor":"#c8c8c8","labelFont":"Roboto","labelFontSize":12.5,"labelColor":"#333333","labelPadding":3,"labelFlush":false,"labelOverlap":false,"labelBound":false,"labelBaseline":{"condition":{"test":"datum.value < 1.124","value":"bottom"},"value":"middle"},"tickOpacity":{"condition":{"test":"datum.value < 1.124","value":0},"value":1}}},"text":{"field":"t"}}}
]
}
